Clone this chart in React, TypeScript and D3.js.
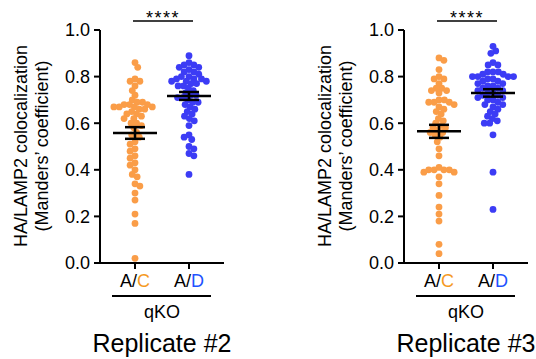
import React from "react";
import * as d3 from "d3";

const categories = ["A/C", "A/D"];
const yTicks = [0, 0.2, 0.4, 0.6, 0.8, 1.0];

const rep2AC = [0.86, 0.84, 0.79, 0.78, 0.78, 0.76, 0.74, 0.72, 0.70, 0.69, 0.69, 0.68, 0.68, 0.68, 0.67, 0.67, 0.67, 0.67, 0.66, 0.66, 0.65, 0.64, 0.64, 0.63, 0.62, 0.62, 0.60, 0.60, 0.59, 0.58, 0.56, 0.55, 0.54, 0.52, 0.51, 0.49, 0.48, 0.46, 0.45, 0.43, 0.42, 0.40, 0.38, 0.37, 0.34, 0.33, 0.30, 0.27, 0.21, 0.17, 0.02];
const rep2AD = [0.89, 0.86, 0.85, 0.85, 0.84, 0.84, 0.83, 0.82, 0.82, 0.81, 0.80, 0.80, 0.79, 0.79, 0.79, 0.78, 0.78, 0.78, 0.77, 0.77, 0.76, 0.76, 0.75, 0.74, 0.73, 0.72, 0.72, 0.71, 0.71, 0.70, 0.69, 0.69, 0.68, 0.67, 0.66, 0.65, 0.64, 0.63, 0.62, 0.61, 0.59, 0.55, 0.54, 0.53, 0.50, 0.49, 0.47, 0.46, 0.38];
const rep3AC = [0.88, 0.87, 0.83, 0.80, 0.79, 0.79, 0.77, 0.75, 0.75, 0.74, 0.74, 0.73, 0.70, 0.70, 0.69, 0.69, 0.69, 0.68, 0.67, 0.66, 0.65, 0.64, 0.62, 0.61, 0.60, 0.59, 0.58, 0.58, 0.57, 0.56, 0.56, 0.55, 0.54, 0.52, 0.49, 0.46, 0.41, 0.40, 0.40, 0.40, 0.39, 0.39, 0.40, 0.37, 0.34, 0.29, 0.24, 0.21, 0.18, 0.08, 0.04];
const rep3AD = [0.93, 0.91, 0.90, 0.86, 0.85, 0.85, 0.82, 0.82, 0.82, 0.81, 0.81, 0.80, 0.80, 0.80, 0.80, 0.79, 0.79, 0.78, 0.78, 0.77, 0.77, 0.76, 0.76, 0.75, 0.75, 0.74, 0.74, 0.73, 0.73, 0.72, 0.72, 0.71, 0.71, 0.70, 0.70, 0.69, 0.68, 0.68, 0.67, 0.66, 0.65, 0.64, 0.63, 0.62, 0.61, 0.60, 0.60, 0.55, 0.39, 0.23];

const rep2Mean = [0.558, 0.717];
const rep2Sem = [0.025, 0.017];
const rep3Mean = [0.565, 0.73];
const rep3Sem = [0.028, 0.016];

const dotColors = ["#FA9D48", "#3C3CF5"];
const letterColors = ["#F59A1F", "#2152FF"];
const FONT = "'Liberation Sans', Arial, Helvetica, sans-serif";
const R = 3.4;
const COLLIDE = 2.7;

function beeswarm(values: number[], y: (v: number) => number, r: number) {
  const order = values.map((v, i) => i).sort((a, b) => values[b] - values[a]);
  const placed: { x: number; y: number }[] = [];
  const out: { x: number; y: number }[] = new Array(values.length);
  const d = 2 * r;
  let flip = 1;
  for (const i of order) {
    const yy = y(values[i]);
    const near = placed.filter((p) => Math.abs(p.y - yy) < d);
    const cands = [0];
    for (const p of near) {
      const dx = Math.sqrt(d * d - (p.y - yy) ** 2);
      cands.push(p.x - dx, p.x + dx);
    }
    const ok = (x: number) => near.every((p) => (p.x - x) ** 2 + (p.y - yy) ** 2 >= d * d - 0.01);
    let best = Infinity;
    let bx = 0;
    cands.sort((a, b) => Math.abs(a) - Math.abs(b) || (a - b) * flip);
    for (const c of cands) {
      if (ok(c) && Math.abs(c) < best - 0.01) {
        best = Math.abs(c);
        bx = c;
      }
    }
    flip = -flip;
    const pt = { x: bx, y: yy };
    placed.push(pt);
    out[i] = pt;
  }
  return out;
}

function Panel({ ax, groups, means, sems, title }: { ax: number; groups: number[][]; means: number[]; sems: number[]; title: string }) {
  const y = d3.scaleLinear().domain([0, 1]).range([263, 30]);
  const x = d3.scalePoint<string>().domain(categories).range([ax + 35, ax + 89]);
  const axisEnd = ax + 124;
  return (
    <g fontFamily={FONT}>
      <line x1={ax} x2={ax} y1={y(1)} y2={y(0) + 1} stroke="#000" strokeWidth={2} />
      {yTicks.map((t) => (
        <g key={t}>
          <line x1={ax - 6} x2={ax} y1={y(t)} y2={y(t)} stroke="#000" strokeWidth={2} />
          <text x={ax - 10} y={y(t)} dy="0.36em" textAnchor="end" fontSize={18}>
            {t.toFixed(1)}
          </text>
        </g>
      ))}
      <g transform={`translate(${ax - 73},146) rotate(-90)`}>
        <text textAnchor="middle" fontSize={18} y={0}>HA/LAMP2 colocalization</text>
        <text textAnchor="middle" fontSize={18} y={21}>(Manders’ coefficient)</text>
      </g>
      <line x1={ax - 1} x2={axisEnd} y1={y(0)} y2={y(0)} stroke="#000" strokeWidth={2} />
      {categories.map((c, i) => (
        <g key={c}>
          <line x1={x(c)} x2={x(c)} y1={y(0)} y2={y(0) + 6} stroke="#000" strokeWidth={2} />
          <text x={x(c)} y={287} textAnchor="middle" fontSize={18}>
            <tspan>A/</tspan>
            <tspan fill={letterColors[i]}>{c.split("/")[1]}</tspan>
          </text>
        </g>
      ))}
      <line x1={ax + 12} x2={ax + 111} y1={296} y2={296} stroke="#000" strokeWidth={2} />
      <text x={ax + 62} y={318} textAnchor="middle" fontSize={18}>qKO</text>
      <text x={ax + 62} y={352} textAnchor="middle" fontSize={25}>{title}</text>
      <line x1={ax + 33} x2={ax + 93} y1={21} y2={21} stroke="#000" strokeWidth={1.5} />
      <text x={ax + 63} y={24} textAnchor="middle" fontSize={18} letterSpacing={1.5}>****</text>
      {groups.map((vals, gi) => {
        const cx = x(categories[gi]) as number;
        const pts = beeswarm(vals, y, COLLIDE);
        return (
          <g key={gi}>
            {pts.map((p, k) => (
              <circle key={k} cx={cx + p.x} cy={p.y} r={R} fill={dotColors[gi]} />
            ))}
          </g>
        );
      })}
      {means.map((m, gi) => {
        const cx = x(categories[gi]) as number;
        const s = sems[gi];
        return (
          <g key={gi} stroke="#000" strokeWidth={2.5}>
            <line x1={cx - 22} x2={cx + 22} y1={y(m)} y2={y(m)} />
            <line x1={cx} x2={cx} y1={y(m + s)} y2={y(m - s)} />
            <line x1={cx - 10} x2={cx + 10} y1={y(m + s)} y2={y(m + s)} />
            <line x1={cx - 10} x2={cx + 10} y1={y(m - s)} y2={y(m - s)} />
          </g>
        );
      })}
    </g>
  );
}

export default function App() {
  return (
    <svg width={536} height={359} style={{ position: "absolute", left: 0, top: 0, background: "#fff" }}>
      <Panel ax={100} groups={[rep2AC, rep2AD]} means={rep2Mean} sems={rep2Sem} title="Replicate #2" />
      <Panel ax={404} groups={[rep3AC, rep3AD]} means={rep3Mean} sems={rep3Sem} title="Replicate #3" />
    </svg>
  );
}
